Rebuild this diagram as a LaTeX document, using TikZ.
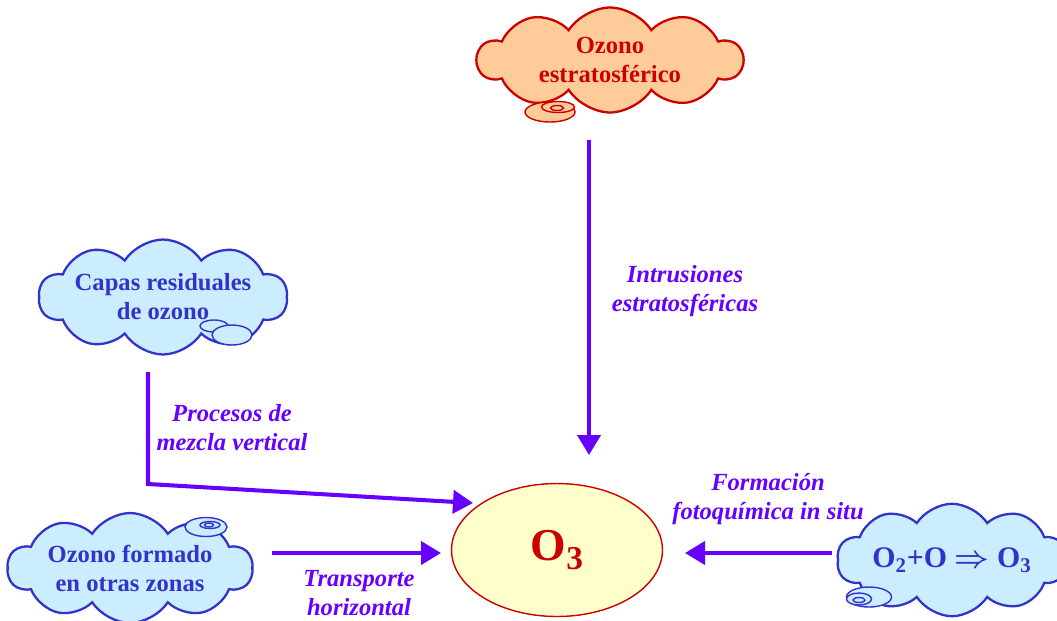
\documentclass[tikz,border=0pt]{standalone}
\usepackage{amsmath,amssymb}
\usepackage{fontspec}
\setmainfont{Liberation Serif}
\usetikzlibrary{shapes.symbols,shapes.geometric,arrows.meta}
\definecolor{azul}{HTML}{3333CC}
\definecolor{celeste}{HTML}{CCECFF}
\definecolor{rojo}{HTML}{CC0000}
\definecolor{melocoton}{HTML}{FFCC99}
\definecolor{crema}{HTML}{FFFFCC}
\definecolor{violeta}{HTML}{6600FF}

\begin{document}
\begin{tikzpicture}[x=0.02cm,y=-0.02cm,
  nube/.style={cloud, cloud puffs=10, cloud puff arc=115, cloud ignores aspect, draw=azul, fill=celeste, line width=1.3pt, text=azul, font=\fontsize{14}{16.5}\selectfont\bfseries, align=center, inner sep=0pt},
  nuber/.style={nube, draw=rojo, fill=melocoton, text=rojo},
  bola/.style={ellipse, draw=azul, fill=celeste, line width=0.8pt, inner sep=0pt},
  bolar/.style={bola, draw=rojo, fill=melocoton},
  flecha/.style={-{Triangle[length=0.4cm,width=0.46cm]}, line width=2.3pt, draw=violeta},
  etiq/.style={font=\fontsize{14}{16.5}\selectfont\bfseries\itshape, text=violeta, align=center}
]
\useasboundingbox (0,0) rectangle (1057,620);

% ===== nubes =====
\node[nuber, minimum width=5.3cm, minimum height=2.1cm] (estrat) at (610,60) {Ozono\\estratosférico};
\node[bolar, minimum width=1cm,    minimum height=0.4cm]  (estratA) at (550,112) {};
\node[bolar, minimum width=0.66cm, minimum height=0.22cm] (estratB) at (558,107) {};
\node[bolar, minimum width=0.26cm, minimum height=0.1cm]  (estratC) at (557,108) {};

\node[nube, minimum width=4.8cm, minimum height=2.3cm] (capas) at (163,297) {Capas residuales\\de ozono};
\node[bola, minimum width=0.56cm, minimum height=0.24cm] (capasA) at (214,326) {};
\node[bola, minimum width=0.8cm,  minimum height=0.4cm]  (capasB) at (232,335) {};

\node[nube, minimum width=4.9cm, minimum height=2.2cm] (otras) at (130,568) {Ozono formado\\en otras zonas};
\node[bola, minimum width=0.84cm, minimum height=0.38cm] (otrasA) at (206,527) {};
\node[bola, minimum width=0.4cm,  minimum height=0.14cm] (otrasB) at (210,525) {};
\node[bola, minimum width=0.18cm, minimum height=0.08cm] (otrasC) at (209,525) {};

\node[nube, minimum width=4.6cm, minimum height=2.25cm, font=\fontsize{17}{19}\selectfont\bfseries] (foto) at (952,560) {O\textsubscript{2}+O $\boldsymbol{\Rightarrow}$ O\textsubscript{3}};
\node[bola, minimum width=0.9cm,  minimum height=0.4cm]  (fotoA) at (869,597) {};
\node[bola, minimum width=0.5cm,  minimum height=0.24cm] (fotoB) at (859,599) {};
\node[bola, minimum width=0.24cm, minimum height=0.1cm]  (fotoC) at (859,600) {};

% ===== ozono troposferico =====
\node[ellipse, draw=rojo, fill=crema, line width=0.8pt, minimum width=4.22cm, minimum height=2.66cm, text=rojo,
  font=\fontsize{26}{28}\selectfont\bfseries] (o3) at (557,550) {O\raisebox{-0.4ex}{\fontsize{19}{19}\selectfont 3}};

% ===== flechas =====
\coordinate (intrA) at (589,140);
\coordinate (intrB) at (589,455);
\draw[flecha] (intrA) -- (intrB);
\node[etiq] (intr) at (685,291) {Intrusiones\\estratosféricas};

\coordinate (mezA) at (148,372);
\coordinate (mezB) at (473,503);
\draw[flecha] (mezA) -- (148,484) -- (mezB);
\node[etiq] (mez) at (232,428) {Procesos de\\mezcla vertical};

\coordinate (horA) at (272,553);
\coordinate (horB) at (441,553);
\draw[flecha] (horA) -- (horB);
\node[etiq] (hor) at (359,593) {Transporte\\horizontal};

\coordinate (fotA) at (832,553);
\coordinate (fotB) at (685,553);
\draw[flecha] (fotA) -- (fotB);
\node[etiq] (fot) at (768,499) {Formación\\fotoquímica in situ};

\end{tikzpicture}
\end{document}
